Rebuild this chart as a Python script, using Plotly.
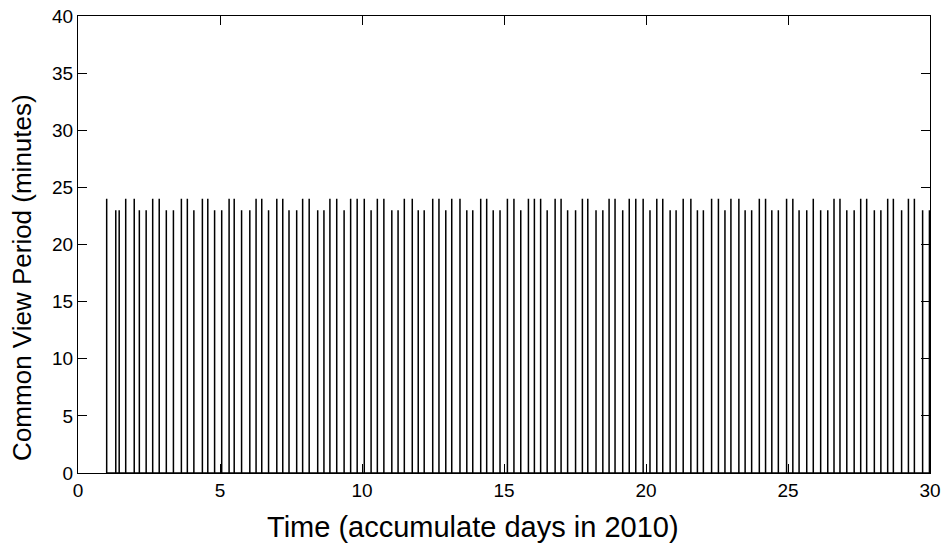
import plotly.graph_objects as go

# Spike times (accumulated days in 2010) and common-view period (minutes)
spike_days = [
    1.01, 1.33, 1.45, 1.68, 1.98, 2.16, 2.40, 2.63, 2.86, 3.11, 3.36, 3.64, 3.85,
    4.08, 4.38, 4.57, 4.81, 5.06, 5.32, 5.50, 5.76, 6.05, 6.27, 6.47, 6.71, 7.00,
    7.21, 7.43, 7.70, 7.91, 8.14, 8.44, 8.66, 8.87, 9.11, 9.37, 9.60, 9.83, 10.08,
    10.32, 10.54, 10.77, 11.05, 11.27, 11.49, 11.77, 11.98, 12.19, 12.49, 12.71,
    12.95, 13.16, 13.45, 13.69, 13.90, 14.18, 14.39,
    14.62, 14.86, 15.12, 15.35, 15.59, 15.86, 16.07, 16.29, 16.52, 16.80, 17.01,
    17.24, 17.52, 17.76, 17.95, 18.24, 18.48, 18.70, 18.91, 19.18, 19.41, 19.64,
    19.90, 20.14, 20.38, 20.59, 20.85, 21.06, 21.31, 21.58, 21.81, 22.02,
    22.31, 22.55, 22.78, 22.99, 23.27, 23.49, 23.72, 23.99, 24.21, 24.43, 24.66,
    24.95, 25.17, 25.39, 25.66, 25.89, 26.15, 26.40, 26.62, 26.83, 27.07, 27.33,
    27.56, 27.77, 28.04, 28.27, 28.51, 28.71, 29.00, 29.24, 29.45, 29.74, 29.98,
]
spike_minutes = [
    24, 23, 23, 24, 24, 23, 23, 24, 24, 23, 23, 24, 24,
    23, 24, 24, 23, 23, 24, 24, 23, 23, 24, 24, 23, 24,
    24, 23, 23, 24, 24, 23, 23, 24, 24, 23, 24, 24, 24,
    23, 24, 24, 23, 23, 24, 24, 23, 23, 24, 24,
    23, 24, 24, 23, 23, 24, 24,
    23, 23, 24, 24, 23, 24, 24, 24, 23, 24, 24,
    23, 23, 24, 24, 23, 23, 24, 24, 23, 24, 24,
    24, 23, 24, 24, 23, 23, 24, 24, 23, 23,
    24, 24, 23, 24, 24, 23, 23, 24, 24, 23, 23,
    24, 24, 23, 23, 24, 23, 23, 24, 24, 23, 23,
    24, 24, 23, 23, 24, 24, 23, 24, 24, 23, 23,
]

x_ticks = [0, 5, 10, 15, 20, 25, 30]
y_ticks = [0, 5, 10, 15, 20, 25, 30, 35, 40]
x_title = "Time (accumulate days in 2010)"
y_title = "Common View Period (minutes)"

# Build the spike polyline: each spike rises from 0 to its value and back
xs, ys = [], []
for t, v in zip(spike_days, spike_minutes):
    xs += [t, t, t]
    ys += [0, v, 0]

fig = go.Figure()
fig.add_trace(go.Scatter(x=xs, y=ys, mode="lines",
                         line=dict(color="black", width=1.5),
                         hoverinfo="skip", showlegend=False))

font_family = "Liberation Sans, Arial, Helvetica, sans-serif"
axis_common = dict(
    showgrid=False, zeroline=False, showline=True, linecolor="black",
    linewidth=1, mirror="ticks", ticks="inside", ticklen=9, tickwidth=1,
    tickcolor="black", automargin=False,
    tickfont=dict(family=font_family, size=19, color="black"),
)
fig.update_layout(
    width=943, height=544,
    margin=dict(l=78, r=13, t=16, b=71),
    paper_bgcolor="white", plot_bgcolor="white",
    xaxis=dict(range=[0, 30], tickvals=x_ticks, ticktext=[str(v) for v in x_ticks],
               **axis_common),
    yaxis=dict(range=[0, 40], tickvals=y_ticks, ticktext=[str(v) for v in y_ticks],
               **axis_common),
    annotations=[
        dict(text=x_title, xref="paper", yref="paper", x=0.464, y=-0.118,
             xanchor="center", yanchor="middle", showarrow=False,
             font=dict(family=font_family, size=29, color="black")),
        dict(text=y_title, xref="paper", yref="paper", x=-0.0657, y=0.427,
             xanchor="center", yanchor="middle", showarrow=False, textangle=-90,
             font=dict(family=font_family, size=26, color="black")),
    ],
)
fig.write_html("out.html", config={"displayModeBar": False},
               post_script="document.body.style.margin='0';document.body.style.overflow='hidden';")
